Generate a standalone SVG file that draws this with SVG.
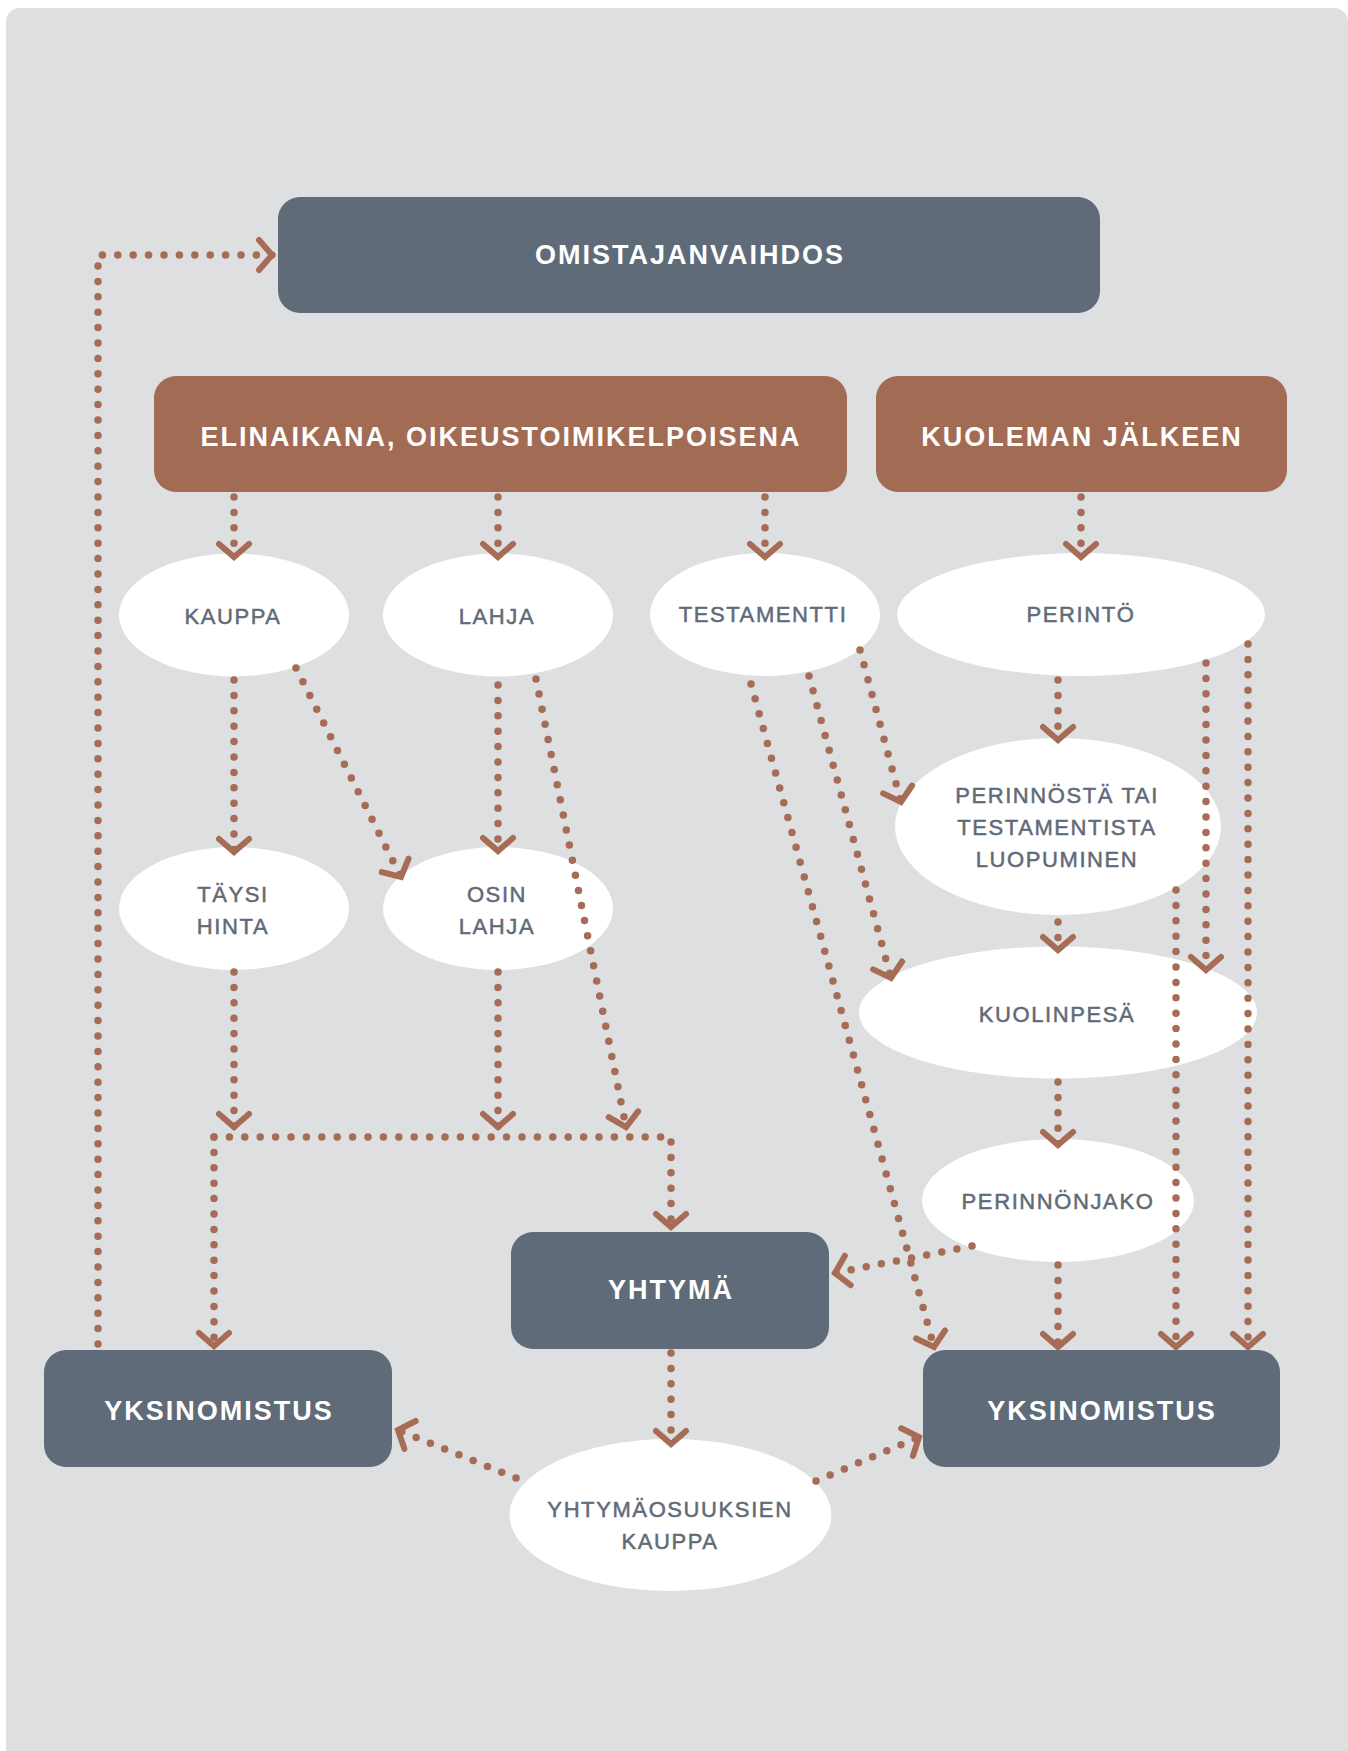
<svg xmlns="http://www.w3.org/2000/svg" width="1348" height="1751" viewBox="0 0 1348 1751">
<style>
.box{fill:#5f6b79}
.brn{fill:#a26b54}
.ell{fill:#ffffff}
.bt{font-family:"Liberation Sans",Arial,sans-serif;font-weight:bold;font-size:27px;letter-spacing:2px;fill:#ffffff;text-anchor:middle}
.et{font-family:"Liberation Sans",Arial,sans-serif;font-size:22px;letter-spacing:1.6px;fill:#5f6b78;stroke:#5f6b78;stroke-width:0.5px;text-anchor:middle}
.c{fill:none;stroke:#a66c55;stroke-width:7.5;stroke-linecap:round;stroke-dasharray:0 15.4}
.a{marker-end:url(#arr)}
</style>
<defs>
<marker id="arr" viewBox="-20 -20 40 40" markerWidth="40" markerHeight="40" refX="0" refY="0" orient="auto" markerUnits="userSpaceOnUse">
<path d="M-13,-15 L0,0 L-13,15" fill="none" stroke="#a66c55" stroke-width="6" stroke-linecap="round" stroke-linejoin="miter"/>
</marker>
</defs>
<rect x="0" y="0" width="1348" height="1751" fill="#ffffff"/>
<rect x="6" y="8" width="1342" height="1770" rx="14" fill="#dedfe1"/>

<g id="omistajanvaihdos"><rect class="box" x="278" y="197" width="822" height="116" rx="22"/><text class="bt" x="690" y="264">OMISTAJANVAIHDOS</text></g>
<g id="elinaikana"><rect class="brn" x="154" y="376" width="693" height="116" rx="22"/><text class="bt" x="501" y="446">ELINAIKANA, OIKEUSTOIMIKELPOISENA</text></g>
<g id="kuoleman"><rect class="brn" x="876" y="376" width="411" height="116" rx="22"/><text class="bt" x="1082" y="446">KUOLEMAN JÄLKEEN</text></g>

<g id="kauppa"><ellipse class="ell" cx="234" cy="615" rx="115" ry="61.5"/><text class="et" x="233" y="624">KAUPPA</text></g>
<g id="lahja"><ellipse class="ell" cx="498" cy="615" rx="115" ry="61.5"/><text class="et" x="497" y="624">LAHJA</text></g>
<g id="testamentti"><ellipse class="ell" cx="765" cy="614.5" rx="115" ry="61.5"/><text class="et" x="763" y="622">TESTAMENTTI</text></g>
<g id="perinto"><ellipse class="ell" cx="1081" cy="614.5" rx="184" ry="61.5"/><text class="et" x="1081" y="622">PERINTÖ</text></g>

<g id="taysihinta"><ellipse class="ell" cx="234" cy="908.5" rx="115" ry="61.5"/><text class="et" x="233" y="902">TÄYSI</text><text class="et" x="233" y="934">HINTA</text></g>
<g id="osinlahja"><ellipse class="ell" cx="498" cy="908.5" rx="115" ry="61.5"/><text class="et" x="497" y="902">OSIN</text><text class="et" x="497" y="934">LAHJA</text></g>

<g id="luopuminen"><ellipse class="ell" cx="1058" cy="826.5" rx="163" ry="88.5"/><text class="et" x="1057" y="803">PERINNÖSTÄ TAI</text><text class="et" x="1057" y="835">TESTAMENTISTA</text><text class="et" x="1057" y="867">LUOPUMINEN</text></g>
<g id="kuolinpesa"><ellipse class="ell" cx="1058" cy="1012.5" rx="199" ry="66"/><text class="et" x="1057" y="1022">KUOLINPESÄ</text></g>
<g id="perinnonjako"><ellipse class="ell" cx="1058" cy="1200.5" rx="136" ry="61.5"/><text class="et" x="1058" y="1209">PERINNÖNJAKO</text></g>

<g id="yhtyma"><rect class="box" x="511" y="1232" width="318" height="117" rx="22"/><text class="bt" x="671" y="1299">YHTYMÄ</text></g>
<g id="yksinomistus-vasen"><rect class="box" x="44" y="1350" width="348" height="117" rx="22"/><text class="bt" x="219" y="1420">YKSINOMISTUS</text></g>
<g id="yksinomistus-oikea"><rect class="box" x="923" y="1350" width="357" height="117" rx="22"/><text class="bt" x="1102" y="1420">YKSINOMISTUS</text></g>
<g id="yhtymaosuuksien"><ellipse class="ell" cx="670.5" cy="1515" rx="161" ry="76"/><text class="et" x="670" y="1517">YHTYMÄOSUUKSIEN</text><text class="et" x="670" y="1549">KAUPPA</text></g>

<g id="connectors">
<path class="c a" d="M98 1344 L98 255 L272 255"/>
<path class="c a" d="M234 497 L234 557"/>
<path class="c a" d="M498 497 L498 557"/>
<path class="c a" d="M765 497 L765 557"/>
<path class="c a" d="M1081 497 L1081 557"/>
<path class="c a" d="M234 680 L234 852"/>
<path class="c a" d="M296 668 L401 877"/>
<path class="c a" d="M498 685 L498 851"/>
<path class="c a" d="M536 679 L626 1127"/>
<path class="c a" d="M234 972 L234 1127"/>
<path class="c a" d="M498 972 L498 1127"/>
<path class="c a" d="M214 1137 L671 1137 L671 1227"/>
<path class="c a" d="M214 1137 L214 1346"/>
<path class="c a" d="M860 650 L901 802"/>
<path class="c a" d="M809 676 L891 978"/>
<path class="c a" d="M751 684 L934 1347"/>
<path class="c a" d="M1058 680 L1058 740"/>
<path class="c a" d="M1058 922 L1058 950"/>
<path class="c a" d="M1058 1082 L1058 1145"/>
<path class="c a" d="M1058 1265 L1058 1347"/>
<path class="c a" d="M972 1246 L835 1273"/>
<path class="c a" d="M1206 663 L1206 970"/>
<path class="c a" d="M1176 890 L1176 1347"/>
<path class="c a" d="M1248 644 L1248 1347"/>
<path class="c a" d="M671 1353 L671 1444"/>
<path class="c a" d="M516 1478 L398 1430"/>
<path class="c a" d="M816 1481 L919 1437"/>
</g>
</svg>
